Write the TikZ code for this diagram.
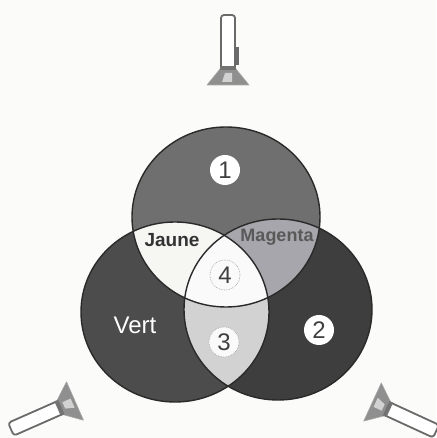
\documentclass[tikz,border=0pt]{standalone}
\usepackage{fontspec}
\setmainfont{Liberation Sans}
\definecolor{bgc}{HTML}{FBFBFA}
\definecolor{topc}{HTML}{6F6F6F}
\definecolor{leftc}{HTML}{4C4C4C}
\definecolor{rightc}{HTML}{3E3E3E}
\definecolor{jaunec}{HTML}{F6F6F2}
\definecolor{magc}{HTML}{A6A6AC}
\definecolor{fourc}{HTML}{FAFAFA}
\definecolor{threec}{HTML}{D2D2D2}
\definecolor{edgec}{HTML}{2A2A2A}
\definecolor{lampc}{HTML}{6A6A6A}
\tikzset{
  every picture/.style={x=1pt,y=1pt},
  outline/.style={draw=edgec,line width=1.4pt},
  badge/.style={circle,fill=white,inner sep=0pt,minimum size=30pt,font=\fontsize{24}{24}\selectfont,text=black!75},
  softbadge/.style={badge,minimum size=30pt,draw=gray!70,densely dotted,line width=0.7pt,fill=fourc},
  lamptube/.style={draw=lampc,line width=1.8pt,fill=white,rounded corners=3pt},
  lampbase/.style={draw=lampc!60,line width=0.6pt,fill=lampc!75,line join=round},
  lampdark/.style={fill=black!55}
}
\newcommand{\lampshape}{%
  \path[lampbase] (-21,0) -- (21,0) -- (8,16) -- (-8,16) -- cycle;
  \fill[white!70!lampc] (-6,3) -- (4,3) -- (4,12) -- (-3,12) -- cycle;
  \path[lamptube] (-7,16) -- (-7,70) -- (7,70) -- (7,16) -- cycle;
  \fill[lampdark] (-8,15) rectangle (8,19);
}
\begin{document}
\begin{tikzpicture}
\useasboundingbox (0,0) rectangle (436,438);
\fill[bgc] (0,0) rectangle (436,438);
\def\ct{(226,221) ellipse [x radius=94,y radius=90]}
\def\cl{(175,126) ellipse [x radius=94,y radius=90]}
\def\cr{(278,128.5) ellipse [x radius=94,y radius=90.5]}
% circles
\fill[leftc] \cl;
\fill[rightc] \cr;
\fill[topc] \ct;
\begin{scope}\clip \cl; \fill[threec] \cr; \end{scope}
\begin{scope}\clip \ct; \fill[jaunec] \cl; \end{scope}
\begin{scope}\clip \ct; \fill[magc] \cr; \end{scope}
\begin{scope}\clip \ct; \clip \cl; \fill[fourc] \cr; \end{scope}
\draw[outline] \ct;
\draw[outline] \cl;
\draw[outline] \cr;
% labels
\node[badge] (one) at (225,268) {1};
\node[badge] (two) at (319,108) {2};
\node[softbadge] (three) at (224,96) {3};
\node[softbadge] (four) at (225,163) {4};
\node[font=\bfseries\fontsize{19}{19}\selectfont,text=black!80] (jaune) at (172,198) {Jaune};
\node[font=\bfseries\fontsize{18}{18}\selectfont,text=black!65] (magenta) at (277,201) {Magenta};
\node[font=\fontsize{24}{24}\selectfont,text=white] (vert) at (135,113) {Vert};
% lamps
\begin{scope}[shift={(228,353)}]
  \lampshape
  \fill[lampc] (7,20) rectangle (11,38);
\end{scope}
\begin{scope}[shift={(75,37)},rotate=113.8]
  \lampshape
\end{scope}
\begin{scope}[shift={(372.5,36)},rotate=-114.7]
  \lampshape
\end{scope}
\end{tikzpicture}
\end{document}
